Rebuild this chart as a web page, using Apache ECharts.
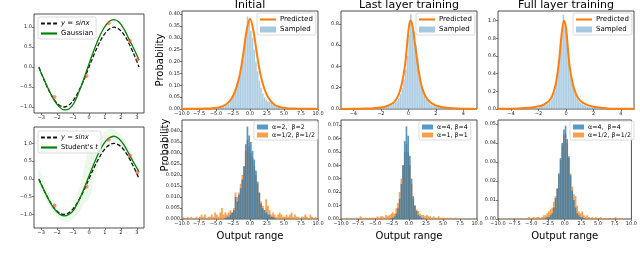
<!DOCTYPE html>
<html><head><meta charset="utf-8">
<script src="https://cdn.jsdelivr.net/npm/echarts@6/dist/echarts.min.js"></script>
<style>html,body{margin:0;padding:0;background:#fff}#c{width:640px;height:256px}</style>
</head><body><div id="c"></div>
<script>
// ---------- sin panels ----------
const sinX = [-3.14,-2.83,-2.51,-2.2,-1.88,-1.57,-1.26,-0.94,-0.63,-0.31,0,0.31,0.63,0.94,1.26,1.57,1.88,2.2,2.51,2.83,3.14];
const sinY = [0,-0.31,-0.59,-0.81,-0.95,-1.0,-0.95,-0.81,-0.59,-0.31,0,0.31,0.59,0.81,0.95,1.0,0.95,0.81,0.59,0.31,0];
const gaussY = [-0.02,-0.3,-0.58,-0.82,-0.99,-1.07,-1.05,-0.9,-0.62,-0.28,0.08,0.42,0.74,0.98,1.14,1.19,1.13,0.95,0.7,0.44,0.18];
const studentY = [-0.02,-0.31,-0.6,-0.83,-0.98,-1.04,-1.0,-0.86,-0.6,-0.27,0.08,0.43,0.75,1.0,1.15,1.2,1.13,0.95,0.7,0.44,0.2];
const bandLo = [-0.2,-0.5,-0.78,-0.97,-1.12,-1.2,-1.2,-1.1,-0.95,-0.7,-0.55,-0.05,0.45,0.8,1.0,1.05,1.0,0.8,0.55,0.3,0.05];
const bandHi = [0.25,-0.05,-0.4,-0.65,-0.85,-0.95,-0.9,-0.7,-0.3,0.3,0.9,1.0,1.1,1.3,1.4,1.4,1.3,1.1,0.85,0.55,0.3];
const obsX = [-2.16,-0.15,1.23,2.56,3.03];
const obsY = [-0.75,-0.22,1.1,0.66,0.19];
const sinXTicks = [-3,-2,-1,0,1,2,3];
const sinYTicks = [-1,-0.5,0,0.5,1];

// ---------- top row: predicted vs sampled ----------
const initPredX = [-10,-9,-8,-7,-6,-5.5,-5,-4.5,-4,-3.5,-3,-2.5,-2,-1.5,-1,-0.5,0,0.5,1,1.5,2,2.5,3,3.5,4,4.5,5,5.5,6,7,8,9,10];
const initPredY = [0.0005,0.0007,0.001,0.0015,0.002,0.003,0.005,0.008,0.012,0.02,0.033,0.055,0.09,0.145,0.23,0.33,0.38,0.33,0.235,0.15,0.095,0.058,0.035,0.02,0.012,0.008,0.005,0.003,0.002,0.0015,0.001,0.0007,0.0005];
const initSampStart = -6, initSampWidth = 0.25;
const initSamp = [0.002,0.002,0.003,0.004,0.005,0.006,0.008,0.009,0.012,0.015,0.02,0.026,0.035,0.045,0.06,0.085,0.115,0.13,0.16,0.2,0.25,0.31,0.39,0.375,0.33,0.3,0.25,0.2,0.16,0.12,0.09,0.065,0.05,0.04,0.032,0.03,0.025,0.018,0.012,0.01,0.007,0.006,0.005,0.004,0.004,0.003,0.002,0.001];

const lastPredX = [-5,-4.5,-4,-3.5,-3,-2.5,-2,-1.75,-1.5,-1.25,-1,-0.75,-0.5,-0.25,0,0.15,0.3,0.5,0.75,1,1.25,1.5,1.75,2,2.5,3,3.5,4,4.5,5];
const lastPredY = [0.001,0.001,0.002,0.003,0.005,0.008,0.014,0.02,0.03,0.045,0.07,0.12,0.22,0.4,0.72,0.83,0.78,0.6,0.36,0.2,0.12,0.075,0.05,0.033,0.016,0.009,0.005,0.003,0.002,0.001];
const lastSampStart = -2, lastSampWidth = 0.125;
const lastSamp = [0.01,0.015,0.02,0.03,0.03,0.035,0.04,0.05,0.06,0.08,0.1,0.14,0.2,0.28,0.37,0.5,0.7,0.89,0.75,0.73,0.6,0.48,0.35,0.25,0.18,0.13,0.09,0.07,0.05,0.04,0.03,0.025,0.02,0.03,0.015,0.01];

const fullPredX = [-5,-4.5,-4,-3.5,-3,-2.5,-2,-1.75,-1.5,-1.25,-1,-0.75,-0.5,-0.35,-0.15,0,0.25,0.5,0.75,1,1.25,1.5,1.75,2,2.5,3,3.5,4,4.5,5];
const fullPredY = [0.002,0.003,0.004,0.006,0.01,0.017,0.03,0.04,0.06,0.09,0.15,0.28,0.55,0.8,1.0,0.92,0.5,0.28,0.16,0.1,0.07,0.05,0.035,0.025,0.013,0.007,0.004,0.003,0.002,0.001];
const fullSampStart = -2, fullSampWidth = 0.125;
const fullSamp = [0.03,0.04,0.05,0.045,0.05,0.06,0.08,0.1,0.14,0.2,0.3,0.45,0.65,0.85,1.07,0.95,0.8,0.55,0.4,0.3,0.22,0.16,0.12,0.09,0.07,0.055,0.045,0.04,0.03,0.025,0.02,0.02,0.015,0.01,0.008,0.005];

// ---------- bottom row: prior histograms ----------
const blueStart = -4, orangeStart = -10, histWidth = 0.25;
const initBlue = [0,0.0005,0.001,0.001,0.002,0.003,0.004,0.01,0.008,0.011,0.014,0.018,0.024,0.034,0.042,0.038,0.035,0.031,0.027,0.022,0.017,0.012,0.007,0.005,0.004,0.003,0.002,0.002,0.001,0.001,0.0005,0];
const initOrange = [0.001,0.0005,0,0.001, 0,0.001,0,0, 0.001,0,0.001,0.002, 0.001,0.002,0,0.001, 0.001,0.002,0.001,0.003, 0.002,0.001,0.003,0.005, 0.002,0.003,0.002,0.003, 0.004,0.003,0.005,0.012, 0.01,0.012,0.016,0.02, 0.024,0.031,0.036,0.033, 0.03,0.028,0.024,0.02, 0.016,0.012,0.008,0.006, 0.004,0.009,0.006,0.004, 0.002,0.003,0.002,0.001, 0.002,0.003,0.002,0.001, 0.001,0.002,0.001,0.002, 0.003,0.001,0.002,0.001, 0.001,0,0.001,0.001, 0.002,0.001,0,0.002, 0.001,0,0.001,0];
const lastBlue = [0,0,0,0,0,0.0005,0.001,0.002,0.004,0.008,0.015,0.026,0.04,0.058,0.069,0.062,0.047,0.03,0.017,0.01,0.006,0.003,0.002,0.001,0.0005,0,0,0,0,0,0,0];
const lastOrange = [0.0005,0,0,0.001, 0,0.0005,0,0, 0,0.001,0.0005,0.002, 0.001,0,0.001,0.0005, 0.001,0.0005,0.001,0.001, 0.001,0.002,0.001,0.002, 0.002,0.001,0.003,0.002, 0.003,0.004,0.005,0.004, 0.008,0.012,0.02,0.03, 0.04,0.05,0.056,0.05, 0.04,0.026,0.015,0.01, 0.007,0.006,0.004,0.003, 0.003,0.002,0.003,0.002, 0.002,0.001,0.002,0.001, 0.001,0.002,0.001,0.001, 0.001,0.0005,0.001,0.0005, 0.001,0,0.0005,0.001, 0,0.0005,0,0, 0.0005,0,0,0.0005, 0,0,0.0005,0];
const fullBlue = [0,0,0,0,0.0005,0.001,0.001,0.002,0.003,0.006,0.011,0.016,0.024,0.032,0.04,0.047,0.049,0.042,0.033,0.023,0.015,0.01,0.006,0.003,0.002,0.001,0.001,0.0005,0,0,0,0];
const fullOrange = [0,0.0005,0,0, 0,0,0.0005,0, 0,0.0005,0,0.0005, 0,0,0.0005,0, 0.0005,0,0.001,0.0005, 0.0005,0.001,0.0005,0.001, 0.001,0.0005,0.001,0.002, 0.002,0.003,0.004,0.005, 0.006,0.009,0.012,0.016, 0.023,0.031,0.039,0.044, 0.045,0.04,0.032,0.024, 0.017,0.013,0.012,0.007, 0.004,0.003,0.004,0.002, 0.001,0.002,0.001,0.0005, 0.001,0.0005,0.001,0.0005, 0.0005,0.001,0,0.0005, 0.0005,0,0.0005,0.0005, 0,0.0005,0.001,0, 0.0005,0,0.0005,0, 0,0.0005,0,0];

const wideXTicks = [-10,-7.5,-5,-2.5,0,2.5,5,7.5,10];
const narrowXTicks = [-4,-2,0,2,4];
const initTopYTicks = [0,0.05,0.1,0.15,0.2,0.25,0.3,0.35,0.4];
const lastTopYTicks = [0,0.2,0.4,0.6,0.8];
const fullTopYTicks = [0,0.2,0.4,0.6,0.8,1.0];
const initBotYTicks = [0,0.005,0.01,0.015,0.02,0.025,0.03,0.035,0.04];
const lastBotYTicks = [0,0.01,0.02,0.03,0.04,0.05,0.06,0.07];
const fullBotYTicks = [0,0.01,0.02,0.03,0.04,0.05];

const titles = ['Initial','Last layer training','Full layer training'];

// ---------- helpers ----------
const ORANGE = '#ff7f0e', GREEN = '#008000';
const FONT = 'DejaVu Sans';
function pairs(xa, ya){ return xa.map((x,i)=>[x, ya[i]]); }
function bins(start, w, vals){ return vals.map((v,i)=>[start+i*w, start+(i+1)*w, v]); }
function fmt(dec){ return v => (dec === 0 ? String(Math.round(v)) : v.toFixed(dec)).replace('-', '\u2212'); }

const grids = [
  {left:34, top:14, width:110, height:99},   // 0 sin top
  {left:34, top:127, width:110, height:101}, // 1 sin bottom
  {left:182, top:11, width:136, height:98},  // 2 initial top
  {left:341, top:11, width:136, height:98},  // 3 last top
  {left:498, top:11, width:136, height:98},  // 4 full top
  {left:182, top:120, width:136, height:99}, // 5 initial bottom
  {left:341, top:120, width:136, height:99}, // 6 last bottom
  {left:498, top:120, width:136, height:99}  // 7 full bottom
].map(g => Object.assign({show:true, borderColor:'#222', borderWidth:0.8, backgroundColor:'transparent'}, g));

function axis(gi, min, max, ticks, dec, extra){
  return Object.assign({
    type:'value', gridIndex:gi, min:min, max:max,
    splitLine:{show:false}, axisLine:{show:false, onZero:false},
    axisTick:{show:true, customValues:ticks, length:2, lineStyle:{color:'#222', width:0.6}},
    axisLabel:{customValues:ticks, formatter:fmt(dec), fontSize:5, fontFamily:FONT, color:'#222', margin:2}
  }, extra || {});
}
const xName = {name:'Output range', nameLocation:'middle', nameGap:12, nameTextStyle:{fontSize:10, fontFamily:FONT, color:'#000'}};
const yName = {name:'Probability', nameLocation:'middle', nameGap:12, nameTextStyle:{fontSize:10, fontFamily:FONT, color:'#000'}};

const xAxes = [
  axis(0,-3.45,3.45,sinXTicks,0), axis(1,-3.45,3.45,sinXTicks,0),
  axis(2,-10,10,wideXTicks,1), axis(3,-4.9,5,narrowXTicks,0), axis(4,-4.95,4.95,narrowXTicks,0),
  axis(5,-10,10,wideXTicks,1,xName), axis(6,-10,10,wideXTicks,1,xName), axis(7,-10,10,wideXTicks,1,xName)
];
const yAxes = [
  axis(0,-1.15,1.33,sinYTicks,1), axis(1,-1.38,1.46,sinYTicks,1),
  axis(2,0,0.413,initTopYTicks,2,yName), axis(3,0,0.92,lastTopYTicks,1), axis(4,0,1.11,fullTopYTicks,1),
  axis(5,0,0.045,initBotYTicks,3), axis(6,0,0.0737,lastBotYTicks,2), axis(7,0,0.052,fullBotYTicks,2)
];

function histSeries(name, gi, data, fill, stroke){
  return {
    type:'custom', name:name, xAxisIndex:gi, yAxisIndex:gi, clip:true,
    itemStyle:{color:fill}, encode:{x:[0,1], y:2},
    data:data,
    renderItem:function(params, api){
      const p0 = api.coord([api.value(0), api.value(2)]);
      const p1 = api.coord([api.value(1), 0]);
      return {type:'rect', shape:{x:p0[0], y:p0[1], width:p1[0]-p0[0], height:p1[1]-p0[1]},
        style:{fill:fill, stroke:stroke || 'none', lineWidth:stroke ? 0.3 : 0}};
    }
  };
}
function bandSeries(gi){
  return {
    type:'custom', name:'band', xAxisIndex:gi, yAxisIndex:gi, clip:true, silent:true,
    data:[[0,0]],
    renderItem:function(params, api){
      const pts = [];
      sinX.forEach((x,i)=>pts.push(api.coord([x, bandHi[i]])));
      for (let i = sinX.length-1; i >= 0; i--) pts.push(api.coord([sinX[i], bandLo[i]]));
      return {type:'polygon', shape:{points:pts, smooth:0.3}, style:{fill:'rgba(0,160,0,0.08)'}};
    }
  };
}
function lineSeries(name, gi, data, color, width, dashed){
  return {type:'line', name:name, xAxisIndex:gi, yAxisIndex:gi, data:data, showSymbol:false, symbol:'none',
    smooth:0.35, color:color, lineStyle:{color:color, width:width, type: dashed ? [4,2] : 'solid'}, z:3};
}
function pointSeries(gi){
  return {type:'scatter', name:'obs', xAxisIndex:gi, yAxisIndex:gi, data:pairs(obsX, obsY), symbol:'circle', symbolSize:4,
    itemStyle:{color:'rgba(255,70,40,0.75)'}, z:4};
}

const series = [
  lineSeries('y = sinx', 0, pairs(sinX, sinY), '#111', 1.3, true),
  lineSeries('Gaussian', 0, pairs(sinX, gaussY), GREEN, 1.3),
  pointSeries(0),
  bandSeries(1),
  lineSeries('y = sinx', 1, pairs(sinX, sinY), '#111', 1.3, true),
  lineSeries("Student's t", 1, pairs(sinX, studentY), GREEN, 1.3),
  pointSeries(1),

  histSeries('Sampled', 2, bins(initSampStart, initSampWidth, initSamp), 'rgba(31,119,180,0.4)', 'rgba(255,255,255,0.7)'),
  lineSeries('Predicted', 2, pairs(initPredX, initPredY), ORANGE, 2),
  histSeries('Sampled', 3, bins(lastSampStart, lastSampWidth, lastSamp), 'rgba(31,119,180,0.4)', 'rgba(255,255,255,0.7)'),
  lineSeries('Predicted', 3, pairs(lastPredX, lastPredY), ORANGE, 2),
  histSeries('Sampled', 4, bins(fullSampStart, fullSampWidth, fullSamp), 'rgba(31,119,180,0.4)', 'rgba(255,255,255,0.7)'),
  lineSeries('Predicted', 4, pairs(fullPredX, fullPredY), ORANGE, 2),

  histSeries('α=1/2, β=1/2', 5, bins(orangeStart, histWidth, initOrange), 'rgba(255,127,14,0.75)'),
  histSeries('α=2,  β=2', 5, bins(blueStart, histWidth, initBlue), 'rgba(31,119,180,0.75)'),
  histSeries('α=1, β=1', 6, bins(orangeStart, histWidth, lastOrange), 'rgba(255,127,14,0.75)'),
  histSeries('α=4, β=4', 6, bins(blueStart, histWidth, lastBlue), 'rgba(31,119,180,0.75)'),
  histSeries('α=1/2, β=1/2', 7, bins(orangeStart, histWidth, fullOrange), 'rgba(255,127,14,0.75)'),
  histSeries('α=4,  β=4', 7, bins(blueStart, histWidth, fullBlue), 'rgba(31,119,180,0.75)')
];

const LINE_ICON = 'path://M0,0H30V4H0Z';
const DASH_ICON = 'path://M0,0H7V4H0Z M11,0H18V4H11Z M22,0H29V4H22Z';
function legend(left, top, data, fs, extra){
  return Object.assign({
    z:10, left:left, top:top, orient:'vertical', data:data, itemWidth:16, itemHeight:6, itemGap:3,
    padding:[3,3,2,3], borderColor:'#ccc', borderWidth:0.7, borderRadius:2, backgroundColor:'rgba(255,255,255,0.85)',
    selectedMode:false,
    textStyle:{fontSize:fs, fontFamily:FONT, color:'#000', padding:[0,0,0,-1],
      rich:{i:{fontStyle:'italic', fontSize:fs, fontFamily:FONT}}},
    formatter:function(n){
      if (n === 'y = sinx') return '{i|y = sinx}';
      if (n === "Student's t") return "Student's {i|t}";
      return n;
    }
  }, extra || {});
}
const legends = [
  legend(38, 17, [{name:'y = sinx', icon:DASH_ICON},{name:'Gaussian', icon:LINE_ICON}], 7),
  legend(38, 131, [{name:'y = sinx', icon:DASH_ICON},{name:"Student's t", icon:LINE_ICON}], 6.8),
  legend(257, 13, [{name:'Predicted', icon:LINE_ICON},{name:'Sampled', icon:'rect'}], 7),
  legend(416, 13, [{name:'Predicted', icon:LINE_ICON},{name:'Sampled', icon:'rect'}], 7),
  legend(573, 13, [{name:'Predicted', icon:LINE_ICON},{name:'Sampled', icon:'rect'}], 7),
  legend(254, 121, [{name:'α=2,  β=2', icon:'rect'},{name:'α=1/2, β=1/2', icon:'rect'}], 6.3, {itemWidth:11, itemHeight:5, itemGap:2}),
  legend(419, 121, [{name:'α=4, β=4', icon:'rect'},{name:'α=1, β=1', icon:'rect'}], 6.3, {itemWidth:11, itemHeight:5, itemGap:2}),
  legend(570, 121, [{name:'α=4,  β=4', icon:'rect'},{name:'α=1/2, β=1/2', icon:'rect'}], 6.3, {itemWidth:11, itemHeight:5, itemGap:2})
];

const titleCenters = [250, 409, 566];
const graphics = titles.map((t,i)=>({type:'text', x:titleCenters[i], y:5, style:{text:t, font:'11px "DejaVu Sans"', fill:'#000', textAlign:'center', textVerticalAlign:'middle'}}));
graphics.push({type:'text', x:165, y:145, rotation:Math.PI/2, style:{text:'Probability', font:'10px "DejaVu Sans"', fill:'#000', textAlign:'center', textVerticalAlign:'middle'}});

const chart = echarts.init(document.getElementById('c'), null, {renderer:'canvas'});
chart.setOption({
  animation:false,
  grid:grids, xAxis:xAxes, yAxis:yAxes, series:series, legend:legends, graphic:graphics
});
</script></body></html>
